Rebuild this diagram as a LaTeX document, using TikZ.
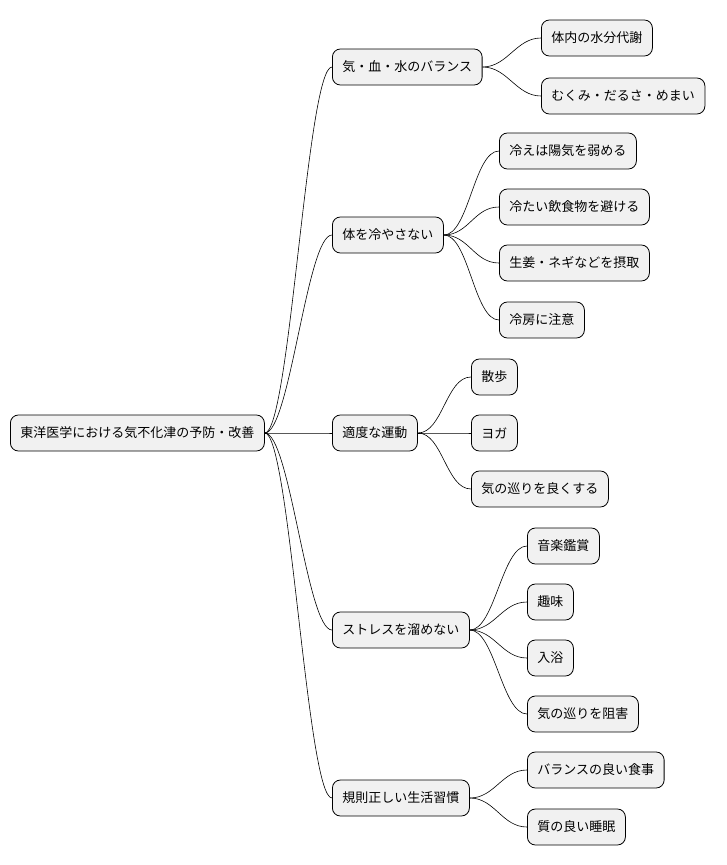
\documentclass[tikz,border=0pt]{standalone}
\usepackage{fontspec}
\setmainfont{Noto Sans CJK JP}
\begin{document}
\begin{tikzpicture}[x=1pt,y=-1pt,
  box/.style={draw=black,fill={rgb,255:red,241;green,241;blue,241},rounded corners=8pt,minimum height=36pt,inner xsep=10pt,anchor=west,font=\fontsize{13}{15}\selectfont,line width=0.8pt},
  con/.style={draw=black,line width=0.6pt}]
\useasboundingbox (0,0) rectangle (726,865);
\node[box] (r) at (10,433) {東洋医学における気不化津の予防・改善};
\node[box] (a) at (332,67) {気・血・水のバランス};
\node[box] (b) at (332,235) {体を冷やさない};
\node[box] (c) at (332,433) {適度な運動};
\node[box] (d) at (332,630) {ストレスを溜めない};
\node[box] (e) at (332,798) {規則正しい生活習慣};
\node[box] (a1) at (541,38) {体内の水分代謝};
\node[box] (a2) at (541,96) {むくみ・だるさ・めまい};
\node[box] (b1) at (499,151) {冷えは陽気を弱める};
\node[box] (b2) at (499,207) {冷たい飲食物を避ける};
\node[box] (b3) at (499,263) {生姜・ネギなどを摂取};
\node[box] (b4) at (499,320) {冷房に注意};
\node[box] (c1) at (471,377) {散歩};
\node[box] (c2) at (471,433) {ヨガ};
\node[box] (c3) at (471,489) {気の巡りを良くする};
\node[box] (d1) at (527,546) {音楽鑑賞};
\node[box] (d2) at (527,602) {趣味};
\node[box] (d3) at (527,658) {入浴};
\node[box] (d4) at (527,714) {気の巡りを阻害};
\node[box] (e1) at (527,770) {バランスの良い食事};
\node[box] (e2) at (527,827) {質の良い睡眠};
\foreach \p/\c in {r/a,r/b,r/c,r/d,r/e,a/a1,a/a2,b/b1,b/b2,b/b3,b/b4,c/c1,c/c2,c/c3,d/d1,d/d2,d/d3,d/d4,e/e1,e/e2}
  \draw[con] (\p.east) .. controls +(25,0) and +(-25,0) .. (\c.west);
\end{tikzpicture}
\end{document}
